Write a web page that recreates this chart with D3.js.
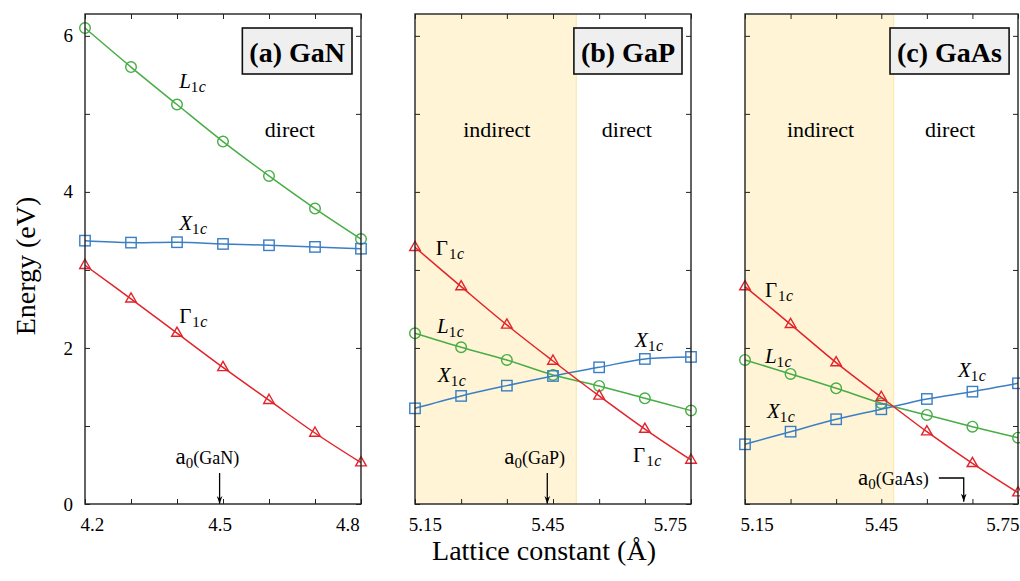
<!DOCTYPE html>
<html><head><meta charset="utf-8">
<script src="https://cdn.jsdelivr.net/npm/d3@7/dist/d3.min.js"></script>
<style>
body{margin:0;background:#fff;}
svg, svg text{font-family:"Liberation Serif","Times New Roman","DejaVu Serif",serif !important;}
</style></head>
<body><svg id="chart" width="1020" height="581"></svg>
<script>
// ---------- data ----------
const materials = ["GaN", "GaP", "GaAs"];
const panelTitles = ["(a) GaN", "(b) GaP", "(c) GaAs"];

const latticeGaN  = [4.184, 4.292, 4.400, 4.508, 4.616, 4.724, 4.832];
const gammaGaN    = [3.06, 2.63, 2.19, 1.75, 1.33, 0.91, 0.53];
const xValleyGaN  = [3.375, 3.35, 3.355, 3.333, 3.316, 3.295, 3.272];
const lValleyGaN  = [6.10, 5.60, 5.12, 4.645, 4.205, 3.786, 3.396];

const latticeGaP  = [5.126, 5.239, 5.351, 5.464, 5.577, 5.689, 5.802];
const gammaGaP    = [3.29, 2.786, 2.295, 1.833, 1.385, 0.96, 0.564];
const xValleyGaP  = [1.226, 1.385, 1.517, 1.641, 1.752, 1.859, 1.885];
const lValleyGaP  = [2.188, 2.009, 1.846, 1.654, 1.513, 1.355, 1.197];

const latticeGaAs = [5.122, 5.232, 5.342, 5.451, 5.561, 5.671, 5.781];
const gammaGaAs   = [2.786, 2.303, 1.812, 1.368, 0.927, 0.521, 0.145];
const xValleyGaAs = [0.765, 0.927, 1.086, 1.214, 1.346, 1.44, 1.547];
const lValleyGaAs = [1.846, 1.667, 1.483, 1.291, 1.141, 0.991, 0.85];

const xTickLabelsGaN  = [4.2, 4.5, 4.8];
const xTickLabelsGaP  = [5.15, 5.45, 5.75];
const xTickLabelsGaAs = [5.15, 5.45, 5.75];
const yTicks = [0, 1, 2, 3, 4, 5, 6];
const yTickLabels = [0, 2, 4, 6];

const a0Values = [4.5, 5.45, 5.65];
const indirectLimit = [null, 5.521, 5.481];

const yLabel = "Energy (eV)";
const xLabel = "Lattice constant (Å)";

// series label annotations [name, x, y] in data units
const seriesLabelsGaN  = [["L", 4.405, 5.33], ["X", 4.405, 3.51], ["G", 4.405, 2.32]];
const seriesLabelsGaP  = [["G", 5.177, 3.19], ["L", 5.180, 2.19], ["X", 5.182, 1.564], ["X", 5.665, 2.012], ["G", 5.660, 0.538]];
const seriesLabelsGaAs = [["G", 5.170, 2.653], ["L", 5.170, 1.807], ["X", 5.175, 1.102], ["X", 5.636, 1.628]];

// ---------- layout ----------
const FONT = '"Liberation Serif","Times New Roman","DejaVu Serif",serif';
const svg = d3.select("#chart");
const plotTop = 14, plotBottom = 504;
const panelRanges = [[85, 361], [415, 691], [745, 1018]];
const colors = {G: "#e3232b", X: "#3a7ec4", L: "#47ad45"};
const yMax = 6.28;

const panelData = [
  {lat: latticeGaN, G: gammaGaN, X: xValleyGaN, L: lValleyGaN, ticks: xTickLabelsGaN, labels: seriesLabelsGaN},
  {lat: latticeGaP, G: gammaGaP, X: xValleyGaP, L: lValleyGaP, ticks: xTickLabelsGaP, labels: seriesLabelsGaP},
  {lat: latticeGaAs, G: gammaGaAs, X: xValleyGaAs, L: lValleyGaAs, ticks: xTickLabelsGaAs, labels: seriesLabelsGaAs}
];

const y = d3.scaleLinear().domain([0, yMax]).range([plotBottom, plotTop]);

// arrow marker
svg.append("defs").append("marker")
  .attr("id", "arr").attr("viewBox", "0 0 10 10").attr("refX", 10).attr("refY", 5)
  .attr("markerWidth", 13).attr("markerHeight", 8).attr("markerUnits", "userSpaceOnUse")
  .attr("orient", "auto")
  .append("path").attr("d", "M0,1.5 L10,5 L0,8.5 L3,5 Z").attr("fill", "#000");

panelData.forEach((pd, i) => {
  const [x0, x1] = panelRanges[i];
  const x = d3.scaleLinear().domain([pd.lat[0], pd.lat[pd.lat.length - 1]]).range([x0, x1]);
  const g = svg.append("g");

  // indirect shading
  if (indirectLimit[i] !== null) {
    g.append("rect").attr("x", x0).attr("y", plotTop)
      .attr("width", x(indirectLimit[i]) - x0).attr("height", plotBottom - plotTop)
      .attr("fill", "#fff5d6");
    g.append("line").attr("x1", x(indirectLimit[i])).attr("x2", x(indirectLimit[i]))
      .attr("y1", plotTop).attr("y2", plotBottom).attr("stroke", "#fbe6a0").attr("stroke-width", 1);
    g.append("text").attr("x", x((pd.lat[0] + indirectLimit[i]) / 2 + 0.003)).attr("y", y(4.70))
      .attr("text-anchor", "middle").attr("font-size", 22).text("indirect");
  }
  const directX = i === 0 ? 4.665 : (i === 1 ? 5.645 : 5.617);
  g.append("text").attr("x", x(directX)).attr("y", y(4.70))
    .attr("text-anchor", "middle").attr("font-size", 22).text("direct");

  // ticks (inward)
  const tickStyle = sel => { sel.attr("font-family", null); sel.select(".domain").remove(); sel.selectAll("line").attr("stroke", "#222").attr("stroke-width", 1); };
  g.append("g").attr("transform", `translate(0,${plotBottom})`)
    .call(d3.axisBottom(x).tickValues(pd.lat).tickSizeInner(-5).tickSizeOuter(0).tickFormat(""))
    .call(tickStyle);
  g.append("g").attr("transform", `translate(0,${plotTop})`)
    .call(d3.axisTop(x).tickValues(pd.lat).tickSizeInner(-5).tickSizeOuter(0).tickFormat(""))
    .call(tickStyle);
  g.append("g").attr("transform", `translate(${x0},0)`)
    .call(d3.axisLeft(y).tickValues(yTicks).tickSizeInner(-5).tickSizeOuter(0).tickFormat(""))
    .call(tickStyle);
  g.append("g").attr("transform", `translate(${x1},0)`)
    .call(d3.axisRight(y).tickValues(yTicks).tickSizeInner(-5).tickSizeOuter(0).tickFormat(""))
    .call(tickStyle);

  // x tick labels
  const xl = g.append("g").attr("transform", `translate(0,${plotBottom})`)
    .call(d3.axisBottom(x).tickValues(pd.ticks).tickSize(0).tickPadding(13.5).tickFormat(d3.format(i === 0 ? ".1f" : ".2f")));
  xl.attr("font-family", null).attr("font-size", null);
  xl.select(".domain").remove();
  xl.selectAll("text").attr("font-size", 19).style("font-family", FONT).attr("fill", "#000");
  xl.selectAll("text").each(function () {
    const b = this.getBBox();
    const gx = x(d3.select(this).datum());
    if (gx + b.x + b.width > 1019) d3.select(this).attr("dx", 1019 - (gx + b.x + b.width));
  });

  if (i === 0) {
    const yl = g.append("g").attr("transform", `translate(${x0},0)`)
      .call(d3.axisLeft(y).tickValues(yTickLabels).tickSize(0).tickPadding(12).tickFormat(d3.format("d")));
    yl.attr("font-family", null).attr("font-size", null);
    yl.select(".domain").remove();
    yl.selectAll("text").attr("font-size", 19).style("font-family", FONT).attr("fill", "#000");
  }

  // series lines & markers
  const line = d3.line().x((d, k) => x(pd.lat[k])).y(d => y(d)).curve(d3.curveCatmullRom.alpha(0.5));
  ["L", "X", "G"].forEach(key => {
    const vals = pd[key];
    g.append("path").attr("d", line(vals)).attr("fill", "none")
      .attr("stroke", colors[key]).attr("stroke-width", 1.5);
    const mk = g.append("g").selectAll("g").data(vals).join("g")
      .attr("transform", (d, k) => `translate(${x(pd.lat[k])},${y(d)})`);
    if (key === "L") mk.append("circle").attr("r", 5.3);
    else if (key === "X") mk.append("rect").attr("x", -5.2).attr("y", -5.2).attr("width", 10.4).attr("height", 10.4);
    else mk.append("path").attr("d", "M0,-6 L5.3,3.2 L-5.3,3.2 Z");
    mk.selectAll("circle,rect,path").attr("fill", "none").attr("stroke", colors[key]).attr("stroke-width", 1.4);
  });

  // series labels
  pd.labels.forEach(([name, lx, ly]) => {
    const t = g.append("text").attr("x", x(lx)).attr("y", y(ly)).attr("font-size", 21);
    if (name === "G") t.append("tspan").text("Γ");
    else t.append("tspan").attr("font-style", "italic").text(name);
    t.append("tspan").attr("font-size", 15).attr("dy", 4).attr("dx", name === "G" ? 1 : 0).text("1");
    t.append("tspan").attr("font-size", 16).attr("font-style", "italic").attr("dx", 0.5).text("c");
  });

  // a0 annotation
  const a0 = a0Values[i];
  const lab = g.append("text").attr("font-size", 23);
  if (i < 2) {
    lab.attr("x", x(a0) - 44 + (i === 1 ? 1 : 0)).attr("y", y(0.513));
    g.append("line").attr("x1", x(a0)).attr("x2", x(a0)).attr("y1", y(0.397)).attr("y2", y(0))
      .attr("stroke", "#000").attr("stroke-width", 1.3).attr("marker-end", "url(#arr)");
  } else {
    lab.attr("x", x(5.395)).attr("y", y(0.2435));
    g.append("path").attr("d", `M${x(5.590)},${y(0.333)} H${x(a0)} V${y(0.03)}`)
      .attr("fill", "none").attr("stroke", "#000").attr("stroke-width", 1.3).attr("marker-end", "url(#arr)");
  }
  lab.append("tspan").text("a");
  lab.append("tspan").attr("font-size", 15).attr("dy", 4).text("0");
  lab.append("tspan").attr("font-size", 18).attr("dy", -4).text("(" + materials[i] + ")");

  // frame
  g.append("rect").attr("x", x0).attr("y", plotTop).attr("width", x1 - x0).attr("height", plotBottom - plotTop)
    .attr("fill", "none").attr("stroke", "#222").attr("stroke-width", 1.4);

  // panel title box
  const tb = g.append("g");
  const tt = tb.append("text").attr("font-size", 28).attr("font-weight", "bold")
    .attr("text-anchor", "end").attr("x", x1 - 16).attr("y", 62).text(panelTitles[i]);
  const bb = tt.node().getBBox();
  tb.insert("rect", "text").attr("x", bb.x - 7).attr("y", 28).attr("width", bb.width + 14).attr("height", 46)
    .attr("fill", "#efefef").attr("stroke", "#111").attr("stroke-width", 1.6);
});

// axis titles
svg.append("text").attr("transform", "translate(35,266) rotate(-90)")
  .attr("text-anchor", "middle").attr("font-size", 28).text(yLabel);
svg.append("text").attr("x", 544).attr("y", 560)
  .attr("text-anchor", "middle").attr("font-size", 28).text(xLabel);
</script></body></html>
